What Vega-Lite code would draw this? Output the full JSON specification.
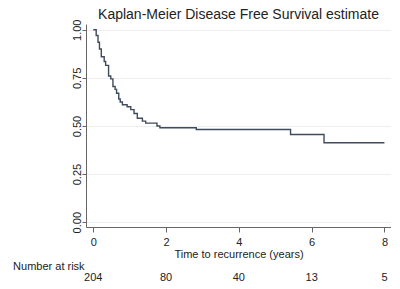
{
  "$schema": "https://vega.github.io/schema/vega-lite/v6.json",
  "background": "white",
  "padding": {"left": 13, "top": 8, "right": 0, "bottom": 0},
  "config": {
    "view": {"stroke": null},
    "font": "Liberation Sans",
    "axis": {
      "labelFont": "Liberation Sans",
      "titleFont": "Liberation Sans",
      "labelColor": "#222222",
      "titleColor": "#222222",
      "labelFontSize": 11,
      "titleFontSize": 11,
      "titleFontWeight": "normal",
      "domainColor": "#666666",
      "tickColor": "#666666"
    }
  },
  "datasets": {
    "km": [
      {"t": 0, "s": 1.0},
      {"t": 0.08, "s": 0.97},
      {"t": 0.13, "s": 0.935},
      {"t": 0.17, "s": 0.9},
      {"t": 0.22, "s": 0.86},
      {"t": 0.3, "s": 0.835},
      {"t": 0.34, "s": 0.815},
      {"t": 0.42, "s": 0.76},
      {"t": 0.48, "s": 0.745},
      {"t": 0.54, "s": 0.705},
      {"t": 0.6, "s": 0.69},
      {"t": 0.64, "s": 0.67},
      {"t": 0.7, "s": 0.64},
      {"t": 0.74, "s": 0.625},
      {"t": 0.8, "s": 0.61},
      {"t": 0.93, "s": 0.6},
      {"t": 1.03, "s": 0.585},
      {"t": 1.12, "s": 0.565},
      {"t": 1.21, "s": 0.54},
      {"t": 1.35, "s": 0.525},
      {"t": 1.44, "s": 0.515},
      {"t": 1.75, "s": 0.5},
      {"t": 1.83, "s": 0.491},
      {"t": 2.83, "s": 0.482},
      {"t": 5.42, "s": 0.456},
      {"t": 6.34, "s": 0.413},
      {"t": 8.0, "s": 0.413}
    ],
    "risk": [
      {"t": 0, "n": "204"},
      {"t": 2, "n": "80"},
      {"t": 4, "n": "40"},
      {"t": 6, "n": "13"},
      {"t": 8, "n": "5"}
    ]
  },
  "spacing": 2,
  "vconcat": [
    {
      "width": 305,
      "height": 203,
      "title": {
        "text": "Kaplan-Meier Disease Free Survival estimate",
        "font": "Liberation Sans",
        "fontSize": 14,
        "fontWeight": "normal",
        "color": "#222222",
        "anchor": "middle",
        "offset": -3
      },
      "data": {"name": "km"},
      "mark": {"type": "line", "interpolate": "step-after", "color": "#3f4b5e", "strokeWidth": 1.4},
      "encoding": {
        "x": {
          "field": "t",
          "type": "quantitative",
          "scale": {"domain": [-0.2, 8.18], "nice": false, "zero": false},
          "axis": {
            "values": [0, 2, 4, 6, 8],
            "title": "Time to recurrence (years)",
            "grid": false,
            "tickSize": 5,
            "labelPadding": 4,
            "titlePadding": 1
          }
        },
        "y": {
          "field": "s",
          "type": "quantitative",
          "scale": {"domain": [-0.025, 1.03], "nice": false, "zero": false},
          "axis": {
            "values": [0, 0.25, 0.5, 0.75, 1],
            "format": ".2f",
            "title": null,
            "grid": true,
            "gridColor": "#eeeeee",
            "tickSize": 4,
            "labelAngle": -90,
            "labelAlign": "center",
            "labelBaseline": "bottom",
            "labelPadding": 0
          }
        }
      }
    },
    {
      "width": 305,
      "height": 12,
      "title": {
        "text": "Number at risk",
        "font": "Liberation Sans",
        "fontSize": 11,
        "fontWeight": "normal",
        "color": "#222222",
        "anchor": "start",
        "dx": -71,
        "offset": 0
      },
      "data": {"name": "risk"},
      "mark": {"type": "text", "font": "Liberation Sans", "fontSize": 11, "color": "#222222", "baseline": "middle"},
      "encoding": {
        "x": {
          "field": "t",
          "type": "quantitative",
          "scale": {"domain": [-0.2, 8.18], "nice": false, "zero": false},
          "axis": null
        },
        "text": {"field": "n"}
      }
    }
  ]
}
